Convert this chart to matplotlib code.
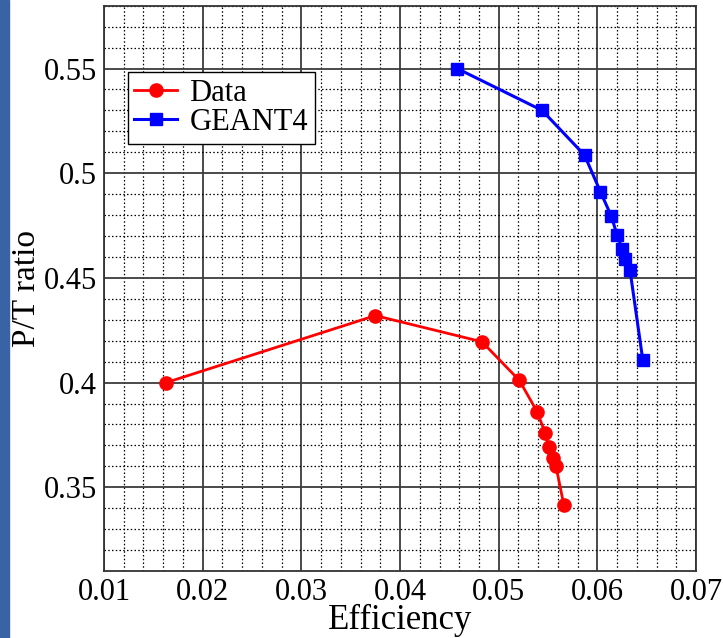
import matplotlib
matplotlib.use("Agg")
import matplotlib.pyplot as plt
from matplotlib.patches import Rectangle
from matplotlib.ticker import MultipleLocator

# efficiency vs P/T ratio
data_eff = [0.0163, 0.0375, 0.0483, 0.0521, 0.0539, 0.0547, 0.0551, 0.0555, 0.0558, 0.0566]
data_pt = [0.400, 0.432, 0.4195, 0.401, 0.386, 0.376, 0.369, 0.364, 0.360, 0.3415]

g4_eff = [0.0458, 0.0544, 0.0587, 0.0603, 0.0614, 0.0620, 0.0625, 0.0628, 0.0633, 0.0646]
g4_pt = [0.550, 0.530, 0.5086, 0.4912, 0.4796, 0.4704, 0.4639, 0.4588, 0.4538, 0.4107]

xticks = [0.01, 0.02, 0.03, 0.04, 0.05, 0.06, 0.07]
xticklabels = ["0.01", "0.02", "0.03", "0.04", "0.05", "0.06", "0.07"]
yticks = [0.35, 0.40, 0.45, 0.50, 0.55]
yticklabels = ["0.35", "0.4", "0.45", "0.5", "0.55"]

plt.rcParams['font.family'] = ['Liberation Serif', 'DejaVu Serif']

fig = plt.figure(figsize=(7.23, 6.38), dpi=100)
ax = fig.add_axes([0.1438, 0.105, 0.819, 0.886])

# blue strip on the left edge
fig.patches.append(Rectangle((0, 0), 0.013, 1, transform=fig.transFigure,
                             color='#3a63a6', zorder=0))

ax.plot(data_eff, data_pt, '-o', color='#ff0000', lw=2.0, ms=9.5, label='Data', zorder=3)
ax.plot(g4_eff, g4_pt, '-s', color='#0000ff', lw=2.2, ms=8, label='GEANT4', zorder=3)

ax.set_xlim(0.01, 0.07)
ax.set_ylim(0.31, 0.58)
ax.set_xticks(xticks)
ax.set_xticklabels(xticklabels)
ax.set_yticks(yticks)
ax.set_yticklabels(yticklabels)
ax.xaxis.set_minor_locator(MultipleLocator(0.002))
ax.yaxis.set_minor_locator(MultipleLocator(0.01))

ax.grid(which='major', color='#3c3c3c', lw=1.3, ls='-')
ax.grid(which='minor', color='black', lw=0.9, ls=(0, (1.2, 1.8)))
ax.set_axisbelow(True)
ax.tick_params(which='both', length=0, labelsize=22)
ax.tick_params(axis='x', pad=5)
ax.tick_params(axis='y', pad=5)
for s in ax.spines.values():
    s.set_color('#333333')
    s.set_linewidth(1.3)

ax.set_xlabel('Efficiency', fontsize=25, labelpad=-2)
ax.set_ylabel('P/T ratio', fontsize=24)
ax.yaxis.set_label_coords(-0.104, 0.5)

leg = ax.legend(loc='upper left', bbox_to_anchor=(0.04, 0.882), fontsize=22,
                frameon=True, fancybox=False, borderpad=0.22, labelspacing=0.0,
                handlelength=1.4, handletextpad=0.4, borderaxespad=0)
leg.get_frame().set_edgecolor('black')
leg.get_frame().set_linewidth(1.0)
leg.get_frame().set_alpha(1)

fig.savefig('out.png', dpi=100)
